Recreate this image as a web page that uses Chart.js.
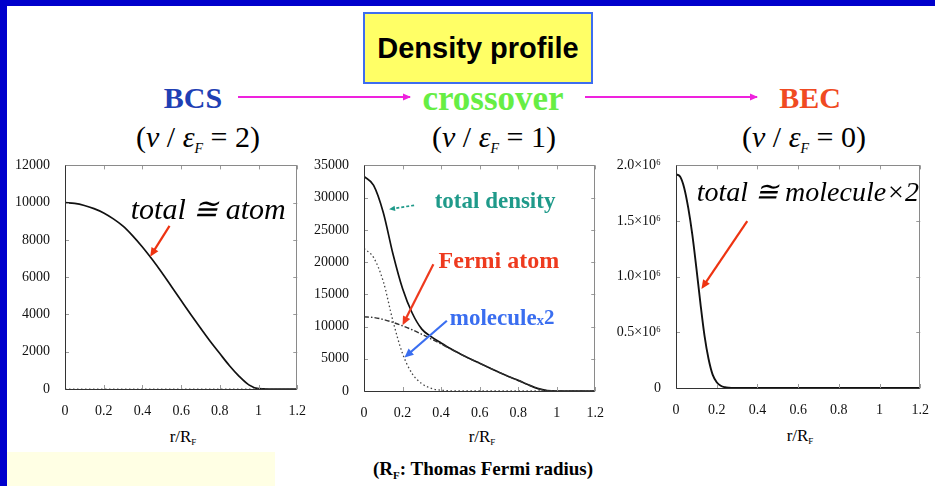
<!DOCTYPE html>
<html>
<head>
<meta charset="utf-8">
<script src="https://cdn.jsdelivr.net/npm/chart.js@4/dist/chart.umd.min.js"></script>
<style>
  html, body { margin: 0; padding: 0; }
  body { width: 935px; height: 486px; position: relative; overflow: hidden; background: #fff;
         font-family: 'Liberation Serif', 'Times New Roman', serif; }
  .bar-top { position: absolute; left: 0; top: 0; width: 935px; height: 6px; background: #0000cc; }
  .bar-left { position: absolute; left: 0; top: 0; width: 7px; height: 486px; background: #0000cc; }
  .note-box { position: absolute; left: 7px; top: 452px; width: 268px; height: 34px; background: #ffffe4; }
  .title-box { position: absolute; left: 363px; top: 12px; width: 226px; height: 68px; background: #ffff66;
               border: 2px solid #3d6df0; display: flex; align-items: center; justify-content: center;
               font-family: 'Liberation Sans', Arial, sans-serif; font-weight: bold; font-size: 29px; color: #000; }
  .c { position: absolute; transform: translate(-50%, -50%); white-space: nowrap; line-height: 1; }
  .regime { font-weight: bold; font-size: 30px; }
  .param { font-size: 30px; color: #000; }
  .param sub { font-size: 14px; font-style: italic; vertical-align: -6px; }
  .axis-title { font-size: 17px; color: #000; }
  .axis-title sub { font-size: 9px; vertical-align: -3px; }
  .foot { font-size: 19px; font-weight: bold; color: #000; }
  .foot sub { font-size: 11px; vertical-align: -4px; }
  canvas { position: absolute; top: 150px; }
  svg { position: absolute; left: 0; top: 0; }
</style>
</head>
<body>
<div class="bar-top"></div>
<div class="bar-left"></div>
<div class="note-box"></div>

<div class="title-box">Density profile</div>

<svg width="935" height="130">
  <defs>
    <marker id="head" markerWidth="8" markerHeight="8" refX="7" refY="4" orient="auto" markerUnits="userSpaceOnUse">
      <path d="M0,0.5 L8,4 L0,7.5 Z" fill="#ee22dd"/>
    </marker>
  </defs>
  <line x1="238" y1="97" x2="410" y2="97" stroke="#ee22dd" stroke-width="2.2" marker-end="url(#head)"/>
  <line x1="585" y1="97" x2="757" y2="97" stroke="#ee22dd" stroke-width="2.2" marker-end="url(#head)"/>
</svg>

<div class="c regime" style="left:193px; top:98px; color:#1f3fb4;">BCS</div>
<div class="c regime" style="left:493px; top:98px; color:#66ee44; font-size:35px;">crossover</div>
<div class="c regime" style="left:810px; top:98px; color:#f04a22;">BEC</div>

<div class="c param" style="left:198px; top:139px;">(<i>ν</i> / <i>ε</i><sub>F</sub> = 2)</div>
<div class="c param" style="left:494px; top:139px;">(<i>ν</i> / <i>ε</i><sub>F</sub> = 1)</div>
<div class="c param" style="left:804px; top:139px;">(<i>ν</i> / <i>ε</i><sub>F</sub> = 0)</div>

<canvas id="bcs" width="312" height="270" style="left:0px;"></canvas>
<canvas id="cross" width="300" height="270" style="left:310px;"></canvas>
<canvas id="bec" width="323" height="270" style="left:612px;"></canvas>

<div class="c axis-title" style="left:183px; top:437px;">r/R<sub>F</sub></div>
<div class="c axis-title" style="left:482px; top:437px;">r/R<sub>F</sub></div>
<div class="c axis-title" style="left:800px; top:436px;">r/R<sub>F</sub></div>

<div class="c foot" style="left:483px; top:470px;">(R<sub>F</sub>: Thomas Fermi radius)</div>

<script>
// ---- shared axis ticks ----
const xTicks = [0, 0.2, 0.4, 0.6, 0.8, 1, 1.2];
const xTickLabels = ['0', '0.2', '0.4', '0.6', '0.8', '1', '1.2'];

// ---- BCS side (nu/eF = 2) ----
const rBCS = [0, 0.05, 0.1, 0.15, 0.2, 0.25, 0.3, 0.35, 0.4, 0.45, 0.5, 0.55, 0.6,
              0.65, 0.7, 0.75, 0.8, 0.85, 0.9, 0.95, 1.0, 1.05, 1.1, 1.15, 1.2];
const bcsTotal = [10000, 9960, 9850, 9680, 9450, 9130, 8740, 8220, 7620, 6960, 6250, 5500, 4750,
                  4000, 3270, 2560, 1900, 1250, 680, 220, 20, 0, 0, 0, 0];
const bcsMolecule = [0, 0, 0, 0, 0, 0, 0, 0, 0, 0, 0, 0, 0,
                     0, 0, 0, 0, 0, 0, 0, 0, 0, 0, 0, 0];
const bcsYTicks = [0, 2000, 4000, 6000, 8000, 10000, 12000];
const bcsYLabels = ['0', '2000', '4000', '6000', '8000', '10000', '12000'];

// ---- crossover (nu/eF = 1) ----
const rCross = [0, 0.05, 0.1, 0.15, 0.2, 0.25, 0.3, 0.35, 0.4, 0.45, 0.5, 0.55, 0.6,
                0.65, 0.7, 0.75, 0.8, 0.85, 0.9, 0.95, 1.0, 1.05, 1.1, 1.15, 1.2];
const crossTotal = [33300, 31900, 27700, 21300, 15900, 12100, 9600, 8400, 7450, 6550, 5750, 5000, 4300,
                    3600, 2900, 2250, 1650, 1000, 400, 60, 0, 0, 0, 0, 0];
const crossAtom = [11500, 11400, 11100, 10650, 10100, 9500, 8800, 8050, 7300, 6500, 5750, 5000, 4300,
                   3600, 2900, 2250, 1650, 1000, 400, 60, 0, 0, 0, 0, 0];
const crossMolecule = [22100, 20700, 17000, 10900, 5800, 2700, 1150, 400, 120, 30, 0, 0, 0,
                       0, 0, 0, 0, 0, 0, 0, 0, 0, 0, 0, 0];
const crossYTicks = [0, 5000, 10000, 15000, 20000, 25000, 30000, 35000];
const crossYLabels = ['0', '5000', '10000', '15000', '20000', '25000', '30000', '35000'];

// ---- BEC side (nu/eF = 0) ----
const rBEC = [0, 0.02, 0.04, 0.06, 0.08, 0.1, 0.12, 0.14, 0.16, 0.18, 0.2, 0.22, 0.24,
              0.26, 0.28, 0.3, 0.4, 0.6, 0.8, 1.0, 1.2];
const becTotal = [1920000, 1900000, 1800000, 1620000, 1380000, 1080000, 760000, 470000, 260000,
                  120000, 52000, 20000, 7000, 2000, 0, 0, 0, 0, 0, 0, 0];
const becYTicks = [0, 500000, 1000000, 1500000, 2000000];
const becYLabels = ['0', '0.5×10⁶', '1.0×10⁶', '1.5×10⁶', '2.0×10⁶'];

const pts = (xs, ys) => xs.map((x, i) => ({ x: x, y: ys[i] }));

// Box frame with inward ticks on all four sides, plus text labels and arrows in data space
const framePlugin = {
  id: 'frame',
  afterDatasetsDraw(chart, args, opts) {
    const { ctx, chartArea: a, scales: { x, y } } = chart;
    ctx.save();
    ctx.lineWidth = 1;
    ctx.strokeStyle = '#9a9a9a';
    ctx.beginPath();
    x.ticks.forEach(t => {
      const px = Math.round(x.getPixelForValue(t.value)) + 0.5;
      ctx.moveTo(px, a.bottom); ctx.lineTo(px, a.bottom - 4);
      ctx.moveTo(px, a.top); ctx.lineTo(px, a.top + 4);
    });
    y.ticks.forEach(t => {
      const py = Math.round(y.getPixelForValue(t.value)) + 0.5;
      ctx.moveTo(a.left, py); ctx.lineTo(a.left + 4, py);
      ctx.moveTo(a.right, py); ctx.lineTo(a.right - 4, py);
    });
    ctx.stroke();
    const L = Math.round(a.left) + 0.5, R = Math.round(a.right) - 0.5;
    const T = Math.round(a.top) + 0.5, B = Math.round(a.bottom) + 0.5;
    ctx.strokeStyle = '#8a8a8a';
    ctx.beginPath(); ctx.moveTo(L, T); ctx.lineTo(R, T); ctx.lineTo(R, B); ctx.stroke();
    ctx.strokeStyle = '#333';
    ctx.beginPath(); ctx.moveTo(L, T); ctx.lineTo(L, B); ctx.lineTo(R, B); ctx.stroke();

    (opts.arrows || []).forEach(ar => {
      const x1 = x.getPixelForValue(ar.from[0]), y1 = y.getPixelForValue(ar.from[1]);
      const x2 = x.getPixelForValue(ar.to[0]), y2 = y.getPixelForValue(ar.to[1]);
      const ang = Math.atan2(y2 - y1, x2 - x1);
      const hl = ar.head || 9, hw = (ar.head || 9) * 0.45;
      ctx.strokeStyle = ar.color; ctx.fillStyle = ar.color; ctx.lineWidth = ar.width || 2;
      ctx.setLineDash(ar.dash || []);
      ctx.beginPath(); ctx.moveTo(x1, y1);
      ctx.lineTo(x2 - Math.cos(ang) * hl * 0.8, y2 - Math.sin(ang) * hl * 0.8); ctx.stroke();
      ctx.setLineDash([]);
      ctx.beginPath();
      ctx.moveTo(x2, y2);
      ctx.lineTo(x2 - Math.cos(ang) * hl - Math.sin(ang) * hw, y2 - Math.sin(ang) * hl + Math.cos(ang) * hw);
      ctx.lineTo(x2 - Math.cos(ang) * hl + Math.sin(ang) * hw, y2 - Math.sin(ang) * hl - Math.cos(ang) * hw);
      ctx.closePath(); ctx.fill();
    });

    (opts.notes || []).forEach(n => {
      const px = x.getPixelForValue(n.x), py = y.getPixelForValue(n.y);
      ctx.textBaseline = 'middle'; ctx.textAlign = 'left'; ctx.fillStyle = n.color;
      let w = 0;
      n.parts.forEach(p => { ctx.font = p.font; w += ctx.measureText(p.t).width; });
      let cx = n.align === 'center' ? px - w / 2 : px;
      n.parts.forEach(p => {
        ctx.font = p.font;
        ctx.fillText(p.t, cx, py + (p.dy || 0));
        cx += ctx.measureText(p.t).width;
      });
    });
    ctx.restore();
  }
};

function makeChart(id, cfg) {
  const tickFont = { family: "'Liberation Serif', 'Times New Roman', serif", size: 14 };
  return new Chart(document.getElementById(id), {
    type: 'line',
    data: { datasets: cfg.datasets },
    options: {
      responsive: false,
      animation: false,
      events: [],
      layout: { padding: cfg.padding },
      elements: { point: { radius: 0 }, line: { cubicInterpolationMode: 'monotone' } },
      plugins: { legend: { display: false }, tooltip: { enabled: false },
                 frame: { notes: cfg.notes, arrows: cfg.arrows } },
      scales: {
        x: {
          type: 'linear', min: 0, max: 1.2,
          grid: { display: false }, border: { display: false },
          afterBuildTicks: s => { s.ticks = xTicks.map(v => ({ value: v })); },
          afterFit: s => { s.height = cfg.xHeight; },
          ticks: { padding: 6, color: '#111', font: tickFont, maxRotation: 0,
                   callback: (v, i) => xTickLabels[i] }
        },
        y: {
          type: 'linear', min: 0, max: cfg.yTicks[cfg.yTicks.length - 1],
          grid: { display: false }, border: { display: false },
          afterBuildTicks: s => { s.ticks = cfg.yTicks.map(v => ({ value: v })); },
          afterFit: s => { s.width = cfg.yWidth; },
          ticks: { padding: 7, color: '#111', font: tickFont,
                   callback: (v, i) => cfg.yLabels[i] }
        }
      }
    },
    plugins: [framePlugin]
  });
}

const serifI = sz => `italic ${sz}px 'Liberation Serif', 'DejaVu Serif', serif`;
const serifB = sz => `bold ${sz}px 'Liberation Serif', 'Times New Roman', serif`;

makeChart('bcs', {
  padding: { top: 11, right: 10, bottom: 0, left: 0 },
  yWidth: 65, xHeight: 31,
  yTicks: bcsYTicks, yLabels: bcsYLabels,
  datasets: [
    { data: pts(rBCS, bcsMolecule), borderColor: '#555', borderWidth: 1.2, borderDash: [1.5, 2.5] },
    { data: pts(rBCS, bcsTotal), borderColor: '#111', borderWidth: 1.7 }
  ],
  notes: [{ x: 0.74, y: 9550, align: 'center', color: '#000', parts: [{ t: 'total ≅ atom', font: serifI(30) }] }],
  arrows: [{ from: [0.54, 8750], to: [0.44, 7100], color: '#ee3311', width: 2.2, head: 9 }]
});

makeChart('cross', {
  padding: { top: 13, right: 9, bottom: 0, left: 0 },
  yWidth: 54, xHeight: 29,
  yTicks: crossYTicks, yLabels: crossYLabels,
  datasets: [
    { data: pts(rCross, crossMolecule), borderColor: '#444', borderWidth: 1.3, borderDash: [1.5, 2.5] },
    { data: pts(rCross, crossAtom), borderColor: '#333', borderWidth: 1.4, borderDash: [5, 2, 1.5, 2] },
    { data: pts(rCross, crossTotal), borderColor: '#111', borderWidth: 1.7 }
  ],
  notes: [
    { x: 0.68, y: 29300, align: 'center', color: '#1f9a8a', parts: [{ t: 'total density', font: serifB(23) }] },
    { x: 0.70, y: 20100, align: 'center', color: '#ee3a1e', parts: [{ t: 'Fermi atom', font: serifB(24) }] },
    { x: 0.445, y: 11200, align: 'left', color: '#3a6ef0',
      parts: [{ t: 'molecule', font: serifB(23) }, { t: 'x', font: serifB(15), dy: 2 }, { t: '2', font: serifB(21) }] }
  ],
  arrows: [
    { from: [0.26, 28800], to: [0.13, 28200], color: '#1f9a8a', width: 1.6, head: 6, dash: [3, 2] },
    { from: [0.36, 19650], to: [0.20, 10200], color: '#ee3a1e', width: 2.2, head: 9 },
    { from: [0.43, 10900], to: [0.21, 5200], color: '#3a6ef0', width: 2.2, head: 9 }
  ]
});

makeChart('bec', {
  padding: { top: 12, right: 7, bottom: 0, left: 0 },
  yWidth: 64, xHeight: 32,
  yTicks: becYTicks, yLabels: becYLabels,
  datasets: [
    { data: pts(rBEC, becTotal), borderColor: '#111', borderWidth: 1.9 }
  ],
  notes: [{ x: 0.648, y: 1750000, align: 'center', color: '#000', parts: [{ t: 'total ≅ molecule×2', font: serifI(28) }] }],
  arrows: [{ from: [0.35, 1500000], to: [0.125, 890000], color: '#ee3311', width: 2.2, head: 9 }]
});
</script>
</body>
</html>
